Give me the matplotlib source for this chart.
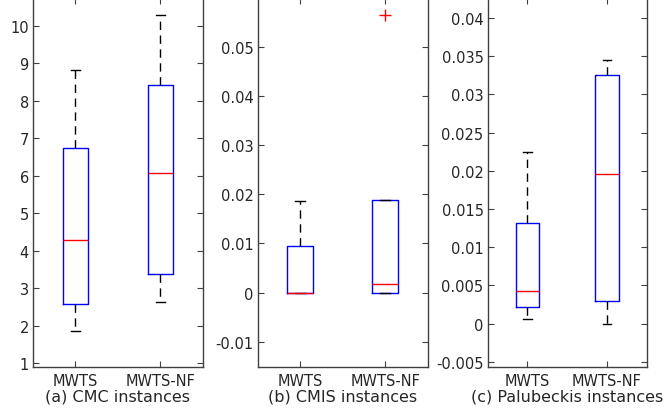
import matplotlib.pyplot as plt

plt.rcParams["font.family"] = ['DejaVu Sans']

methods = ['MWTS', 'MWTS-NF']

# box stats: (whislo, q1, med, q3, whishi)
cmc_low = [1.85, 2.62]
cmc_q1 = [2.57, 3.37]
cmc_med = [4.28, 6.06]
cmc_q3 = [6.75, 8.43]
cmc_high = [8.83, 10.3]
cmc_fliers = [[], []]

cmis_low = [0.0, 0.0]
cmis_q1 = [0.0, 0.0]
cmis_med = [0.0, 0.0017]
cmis_q3 = [0.0095, 0.0189]
cmis_high = [0.0187, 0.0189]
cmis_fliers = [[], [0.0563]]

pal_low = [0.00065, 0.0]
pal_q1 = [0.0021, 0.003]
pal_med = [0.0042, 0.0196]
pal_q3 = [0.0131, 0.0326]
pal_high = [0.0224, 0.0345]
pal_fliers = [[], []]

titles = ['(a) CMC instances', '(b) CMIS instances', '(c) Palubeckis instances']
yticks_a = [1, 2, 3, 4, 5, 6, 7, 8, 9, 10]
yticks_b = [-0.01, 0, 0.01, 0.02, 0.03, 0.04, 0.05]
yticks_c = [-0.005, 0, 0.005, 0.01, 0.015, 0.02, 0.025, 0.03, 0.035, 0.04]

panels = [
    (cmc_low, cmc_q1, cmc_med, cmc_q3, cmc_high, cmc_fliers, yticks_a, (0.893, 10.75)),
    (cmis_low, cmis_q1, cmis_med, cmis_q3, cmis_high, cmis_fliers, yticks_b, (-0.0151, 0.0599)),
    (pal_low, pal_q1, pal_med, pal_q3, pal_high, pal_fliers, yticks_c, (-0.0057, 0.04265)),
]
rects = [
    [0.0497, 0.111, 0.256, 0.892],
    [0.388, 0.111, 0.256, 0.892],
    [0.7345, 0.111, 0.2395, 0.892],
]

fig = plt.figure(figsize=(6.64, 4.14), dpi=100)
for (lo, q1, med, q3, hi, fl, yt, yl), rect, title in zip(panels, rects, titles):
    ax = fig.add_axes(rect)
    stats = []
    for i in range(2):
        stats.append(dict(whislo=lo[i], q1=q1[i], med=med[i], q3=q3[i],
                          whishi=hi[i], fliers=fl[i], label=methods[i]))
    ax.bxp(stats, positions=[1, 2], widths=0.3, capwidths=0.11, showfliers=True,
           boxprops=dict(color='#0000ff', linewidth=1.0),
           medianprops=dict(color='#ff0000', linewidth=1.0),
           whiskerprops=dict(color='black', linewidth=1.0, linestyle=(0, (6, 4))),
           capprops=dict(color='black', linewidth=1.0),
           flierprops=dict(marker='+', markeredgecolor='#ff0000', markersize=8,
                           markeredgewidth=1.0, linestyle='none'))
    ax.set_xlim(0.5, 2.5)
    ax.set_ylim(*yl)
    ax.set_yticks(yt)
    ax.set_yticklabels(['%g' % v for v in yt])
    ax.set_xticks([1, 2])
    ax.set_xticklabels(methods)
    ax.tick_params(direction='in', top=True, right=True, length=4,
                   width=0.8, colors='#404040', labelcolor='#262626', labelsize=10.5)
    ax.tick_params(axis='x', pad=4)
    ax.tick_params(axis='y', pad=3)
    for s in ax.spines.values():
        s.set_color('#404040')
        s.set_linewidth(1.0)
    ax.set_xlabel(title, fontsize=11.5, color='#262626', labelpad=1)

fig.savefig('out.png', dpi=100)
